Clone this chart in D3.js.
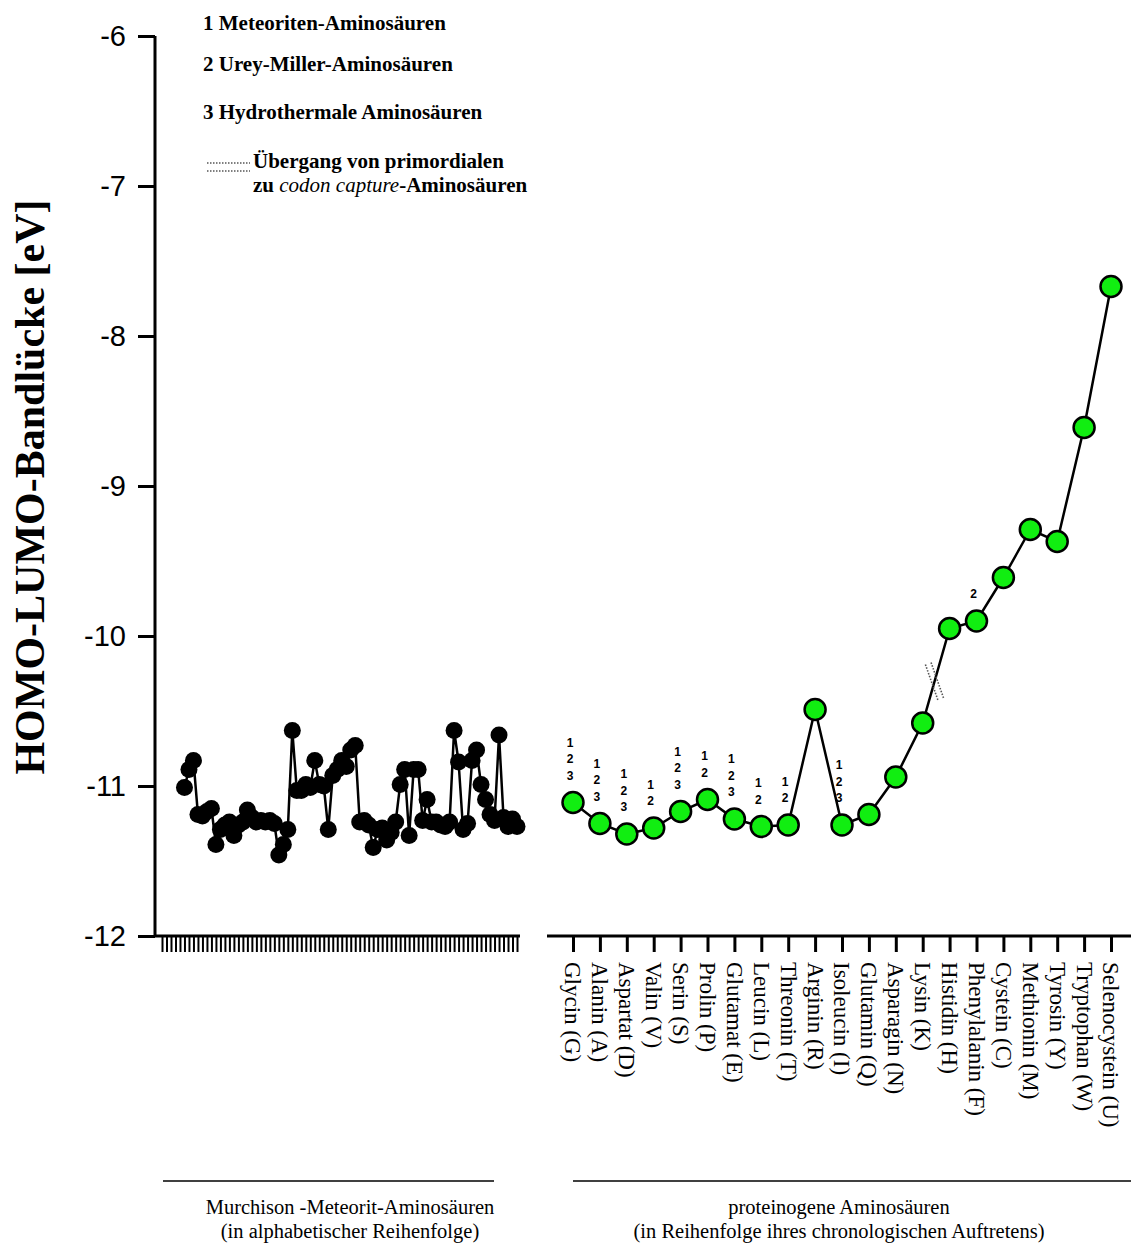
<!DOCTYPE html>
<html>
<head>
<meta charset="utf-8">
<script src="https://cdn.jsdelivr.net/npm/d3@7"></script>
<style>
  html, body { margin: 0; padding: 0; background: #fff; }
  svg { display: block; }
</style>
</head>
<body>
<svg id="chart" width="1131" height="1245"></svg>
<script>
// HOMO-LUMO gap values (eV) of the Murchison meteorite amino acids, alphabetical order
const meteoriteValues = [
  -11.01, -10.89, -10.83, -11.19, -11.20, -11.17, -11.15, -11.39, -11.29, -11.26,
  -11.24, -11.33, -11.26, -11.24, -11.16, -11.21, -11.24, -11.23, -11.24, -11.23,
  -11.25, -11.46, -11.39, -11.29, -10.63, -11.03, -11.03, -10.99, -11.01, -10.83,
  -10.99, -11.00, -11.29, -10.93, -10.89, -10.83, -10.87, -10.76, -10.73, -11.24,
  -11.23, -11.26, -11.41, -11.29, -11.28, -11.36, -11.31, -11.24, -10.99, -10.89,
  -11.33, -10.89, -10.89, -11.23, -11.09, -11.24, -11.24, -11.26, -11.27, -11.24,
  -10.63, -10.84, -11.29, -11.25, -10.83, -10.76, -10.99, -11.09, -11.19, -11.23,
  -10.66, -11.21, -11.27, -11.22, -11.27
];
// tick slots along the meteorite axis; the first slots carry no value
const meteoriteSlots = 80;
const meteoriteOffset = meteoriteSlots - meteoriteValues.length;

// proteinogenic amino acids in order of chronological appearance
const proteinCategories = [
  "Glycin (G)", "Alanin (A)", "Aspartat (D)", "Valin (V)", "Serin (S)", "Prolin (P)",
  "Glutamat (E)", "Leucin (L)", "Threonin (T)", "Arginin (R)", "Isoleucin (I)",
  "Glutamin (Q)", "Asparagin (N)", "Lysin (K)", "Histidin (H)", "Phenylalanin (F)",
  "Cystein (C)", "Methionin (M)", "Tyrosin (Y)", "Tryptophan (W)", "Selenocystein (U)"
];
const proteinValues = [
  -11.11, -11.25, -11.32, -11.28, -11.17, -11.09, -11.22, -11.27, -11.26, -10.49,
  -11.26, -11.19, -10.94, -10.58, -9.95, -9.90, -9.61, -9.29, -9.37, -8.61, -7.67
];
// source markers above each point (1 meteorite, 2 Urey-Miller, 3 hydrothermal)
const sourceMarks = [
  "123", "123", "123", "12", "123", "12", "123", "12", "12", "",
  "123", "", "", "", "", "2", "", "", "", "", ""
];
// segment (between these two categories) where primordial turns into codon capture
const transitionPair = ["Lysin (K)", "Histidin (H)"];

const yTicks = [-6, -7, -8, -9, -10, -11, -12];
const legendItems = [
  "1 Meteoriten-Aminosäuren",
  "2 Urey-Miller-Aminosäuren",
  "3 Hydrothermale Aminosäuren"
];
const groupTitles = [
  ["Murchison -Meteorit-Aminosäuren", "(in alphabetischer Reihenfolge)"],
  ["proteinogene Aminosäuren", "(in Reihenfolge ihres chronologischen Auftretens)"]
];

const svg = d3.select("#chart");
const serif = "'Liberation Serif', 'Times New Roman', serif";
const sans = "'Liberation Sans', Arial, sans-serif";

const y = d3.scaleLinear().domain([-12, -6]).range([936, 36]);
const xLeft = d3.scaleLinear().domain([0, meteoriteSlots - 1]).range([162, 517]);
const xRight = d3.scalePoint().domain(proteinCategories).range([573, 1111]);

// ----- y axis -----
const yAxis = d3.axisLeft(y).tickValues(yTicks).tickSize(17).tickPadding(12)
  .tickFormat(d => String(d));
const gy = svg.append("g").attr("transform", "translate(155,0)").call(yAxis);
gy.select(".domain").attr("stroke", "#000").attr("stroke-width", 3)
  .attr("d", "M0,36V936");
gy.selectAll(".tick line").attr("stroke", "#000").attr("stroke-width", 3);
gy.selectAll(".tick text").attr("font-family", sans).attr("font-size", 29)
  .attr("fill", "#000");

svg.append("text")
  .attr("transform", "translate(44,487) rotate(-90)")
  .attr("text-anchor", "middle")
  .attr("font-family", serif).attr("font-weight", "bold").attr("font-size", 42)
  .text("HOMO-LUMO-Bandlücke [eV]");

// ----- meteorite axis -----
const gxl = svg.append("g").attr("transform", "translate(0,936)")
  .call(d3.axisBottom(xLeft).tickValues(d3.range(meteoriteSlots)).tickSize(16)
    .tickFormat(""));
gxl.select(".domain").attr("stroke", "#000").attr("stroke-width", 3)
  .attr("d", "M155,0H520");
gxl.selectAll(".tick line").attr("stroke", "#000").attr("stroke-width", 2);

// ----- protein axis -----
const gxr = svg.append("g").attr("transform", "translate(0,936)")
  .call(d3.axisBottom(xRight).tickSize(16).tickPadding(8));
gxr.select(".domain").attr("stroke", "#000").attr("stroke-width", 3)
  .attr("d", "M547,0H1131");
gxr.selectAll(".tick line").attr("stroke", "#000").attr("stroke-width", 3);
gxr.selectAll(".tick text")
  .attr("font-family", serif).attr("font-size", 23).attr("fill", "#000")
  .attr("text-anchor", "start").attr("dy", "0.35em")
  .attr("transform", "translate(0,2) rotate(90)")
  .attr("x", 24).attr("y", 0);

// ----- meteorite series -----
const lineLeft = d3.line()
  .x((d, i) => xLeft(i + meteoriteOffset))
  .y(d => y(d));
svg.append("path").datum(meteoriteValues)
  .attr("d", lineLeft).attr("fill", "none")
  .attr("stroke", "#000").attr("stroke-width", 2.5);
svg.append("g").selectAll("circle").data(meteoriteValues).join("circle")
  .attr("cx", (d, i) => xLeft(i + meteoriteOffset))
  .attr("cy", d => y(d))
  .attr("r", 8.5).attr("fill", "#000");

// ----- protein series -----
const lineRight = d3.line()
  .x((d, i) => xRight(proteinCategories[i]))
  .y(d => y(d));
svg.append("path").datum(proteinValues)
  .attr("d", lineRight).attr("fill", "none")
  .attr("stroke", "#000").attr("stroke-width", 2.5);

// transition marker: two steep dotted strokes crossing the Lysin-Histidin segment
{
  const i0 = proteinCategories.indexOf(transitionPair[0]);
  const i1 = proteinCategories.indexOf(transitionPair[1]);
  const x0 = xRight(proteinCategories[i0]), y0 = y(proteinValues[i0]);
  const x1 = xRight(proteinCategories[i1]), y1 = y(proteinValues[i1]);
  const t = 0.44;
  const cx = x0 + (x1 - x0) * t, cy = y0 + (y1 - y0) * t;
  const dir = Math.atan2(37, 13);
  const ux = Math.cos(dir), uy = Math.sin(dir);
  const half = 19;
  [-3, 3].forEach(o => {
    const ox = -uy * o, oy = ux * o;
    svg.append("line")
      .attr("x1", cx + ox - ux * half).attr("y1", cy + oy - uy * half)
      .attr("x2", cx + ox + ux * half).attr("y2", cy + oy + uy * half)
      .attr("stroke", "#555").attr("stroke-width", 1.6)
      .attr("stroke-dasharray", "1.5,1.5");
  });
}

svg.append("g").selectAll("circle").data(proteinValues).join("circle")
  .attr("cx", (d, i) => xRight(proteinCategories[i]))
  .attr("cy", d => y(d))
  .attr("r", 10.5).attr("fill", "#11ee11")
  .attr("stroke", "#000").attr("stroke-width", 2.5);

// source markers stacked above the points
const markG = svg.append("g");
proteinValues.forEach((v, i) => {
  const marks = sourceMarks[i].split("");
  const cx = xRight(proteinCategories[i]);
  const base = y(v) - 27;
  marks.forEach((m, k) => {
    markG.append("text")
      .attr("x", cx - 3)
      .attr("y", base - (marks.length - 1 - k) * 16.5)
      .attr("dy", "0.35em")
      .attr("text-anchor", "middle")
      .attr("font-family", sans).attr("font-weight", "bold").attr("font-size", 12)
      .text(m);
  });
});

// ----- legend -----
const legendY = [23, 64, 112];
legendItems.forEach((t, i) => {
  svg.append("text")
    .attr("x", 203).attr("y", legendY[i]).attr("dy", "0.35em")
    .attr("font-family", serif).attr("font-weight", "bold").attr("font-size", 21)
    .text(t);
});
[163, 171].forEach(ly => {
  svg.append("line").attr("x1", 207).attr("x2", 250).attr("y1", ly).attr("y2", ly)
    .attr("stroke", "#555").attr("stroke-width", 1.5).attr("stroke-dasharray", "1.5,1.5");
});
svg.append("text").attr("x", 253).attr("y", 161).attr("dy", "0.35em")
  .attr("font-family", serif).attr("font-weight", "bold").attr("font-size", 21)
  .text("Übergang von primordialen");
const t2 = svg.append("text").attr("x", 253).attr("y", 185).attr("dy", "0.35em")
  .attr("font-family", serif).attr("font-weight", "bold").attr("font-size", 21);
t2.append("tspan").text("zu ");
t2.append("tspan").attr("font-style", "italic").attr("font-weight", "normal").text("codon capture");
t2.append("tspan").text("-Aminosäuren");

// ----- group brackets and titles -----
const groups = [
  { x1: 163, x2: 494, cx: 350 },
  { x1: 573, x2: 1131, cx: 839 }
];
groups.forEach((g, i) => {
  svg.append("line").attr("x1", g.x1).attr("x2", g.x2)
    .attr("y1", 1181).attr("y2", 1181).attr("stroke", "#000").attr("stroke-width", 1.5);
  groupTitles[i].forEach((line, k) => {
    svg.append("text").attr("x", g.cx).attr("y", 1207 + k * 24).attr("dy", "0.35em")
      .attr("text-anchor", "middle")
      .attr("font-family", serif).attr("font-size", 20.5)
      .text(line);
  });
});
</script>
</body>
</html>
